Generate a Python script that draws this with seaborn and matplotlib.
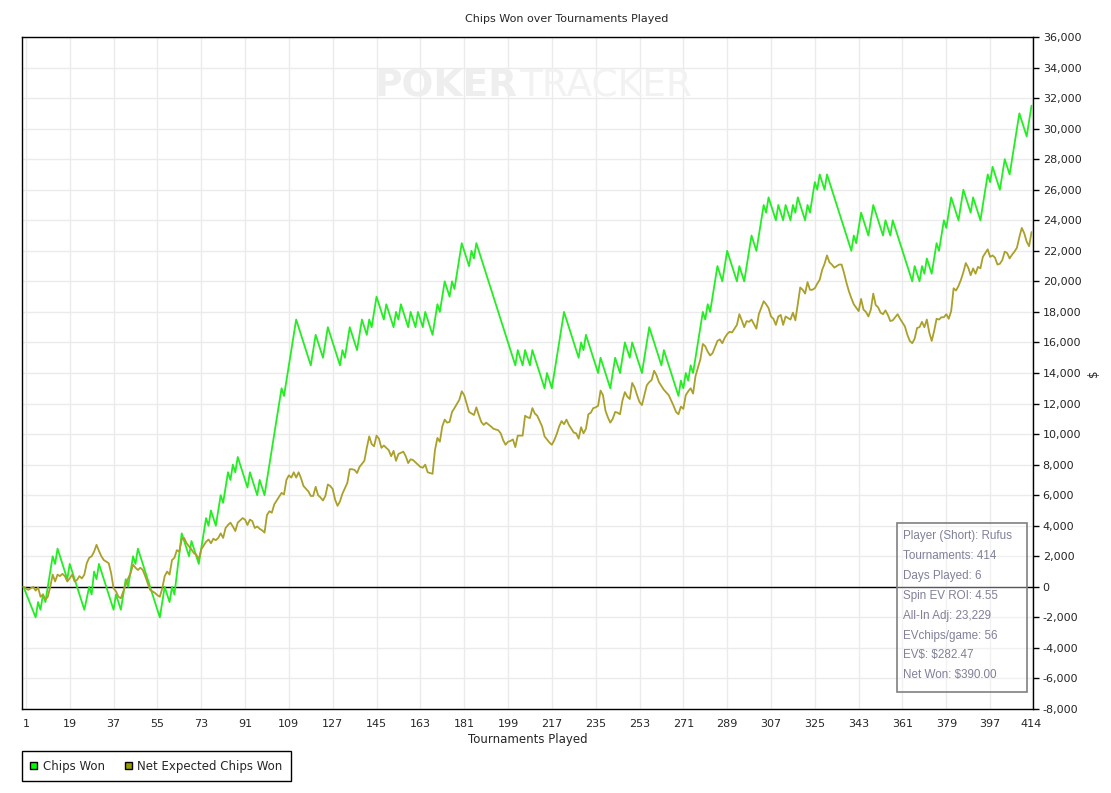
import matplotlib
matplotlib.use("Agg")
import matplotlib.pyplot as plt
from matplotlib.patches import Patch, Rectangle
from matplotlib.ticker import FuncFormatter
import seaborn as sns
import pandas as pd

# Chips Won: turning points of the win/loss path (tournament, chips)
chips_t = [
    0, 5, 6, 7, 8, 9, 12, 13, 14, 18,
    19, 25, 27, 28, 29, 30, 31, 37, 38, 40,
    42, 43, 45, 46, 47, 56, 58, 60, 61, 62,
    65, 68, 69, 72, 75, 76, 77, 79, 81, 82,
    84, 85, 86, 87, 88, 92, 93, 96, 97, 99,
    106, 107, 112, 118, 120, 123, 125, 130, 131, 132,
    134, 137, 139, 141, 142, 143, 145, 148, 149, 152,
    153, 154, 155, 158, 159, 161, 162, 164, 165, 168,
    170, 171, 173, 175, 176, 177, 180, 183, 184, 185,
    186, 202, 203, 205, 206, 208, 209, 214, 215, 217,
    222, 228, 229, 230, 231, 236, 237, 241, 243, 245,
    247, 249, 250, 254, 257, 262, 263, 269, 270, 271,
    272, 273, 274, 275, 279, 280, 281, 282, 285, 287,
    289, 293, 294, 296, 299, 301, 304, 305, 306, 309,
    310, 312, 313, 315, 316, 317, 318, 321, 322, 323,
    325, 326, 327, 329, 330, 340, 341, 342, 344, 347,
    349, 353, 354, 356, 357, 365, 366, 368, 369, 370,
    371, 373, 375, 376, 378, 379, 381, 384, 386, 389,
    390, 393, 396, 397, 398, 401, 403, 405, 409, 412,
    414,
]
chips_won = [
    0, -2000, -1000, -1500, -500, -1000, 2000, 1500, 2500, 500,
    1500, -1500, 0, -500, 1000, 500, 1500, -1500, -500, -1500,
    500, 0, 2000, 1500, 2500, -2000, 0, -1000, 0, -500,
    3500, 2000, 3000, 1500, 4500, 4000, 5000, 4000, 6000, 5500,
    7500, 7000, 8000, 7500, 8500, 6500, 7500, 6000, 7000, 6000,
    13000, 12500, 17500, 14500, 16500, 15000, 17000, 14500, 15500, 15000,
    17000, 15500, 17500, 16500, 17500, 17000, 19000, 17500, 18500, 17000,
    18000, 17500, 18500, 17000, 18000, 17000, 18000, 17000, 18000, 16500,
    18500, 18000, 20000, 19000, 20000, 19500, 22500, 21000, 22000, 21500,
    22500, 14500, 15500, 14500, 15500, 14500, 15500, 13000, 14000, 13000,
    18000, 15000, 16000, 15500, 16500, 14000, 15000, 13000, 15000, 14000,
    16000, 15000, 16000, 14000, 17000, 14500, 15500, 12500, 13500, 13000,
    14000, 13500, 14500, 14000, 18000, 17500, 18500, 18000, 21000, 20000,
    22000, 20000, 21000, 20000, 23000, 22000, 25000, 24500, 25500, 24000,
    25000, 24000, 25000, 24000, 25000, 24500, 25500, 24000, 25000, 24500,
    26500, 26000, 27000, 26000, 27000, 22000, 23000, 22500, 24500, 23000,
    25000, 23000, 24000, 23000, 24000, 20000, 21000, 20000, 21000, 20500,
    21500, 20500, 22500, 22000, 24000, 23500, 25500, 24000, 26000, 24500,
    25500, 24000, 27000, 26500, 27500, 26000, 28000, 27000, 31000, 29500,
    31500,
]

# Net Expected Chips Won (tournament, chips)
ev_t = [
    0, 2, 4, 5, 6, 7, 8, 9, 10, 11,
    12, 13, 14, 15, 16, 17, 18, 19, 20, 21,
    22, 23, 24, 25, 26, 27, 28, 29, 30, 31,
    32, 33, 34, 35, 36, 37, 38, 39, 40, 41,
    42, 43, 44, 45, 46, 47, 48, 49, 50, 51,
    52, 54, 55, 56, 57, 58, 59, 60, 61, 62,
    63, 64, 65, 66, 67, 68, 69, 70, 71, 72,
    73, 75, 76, 77, 78, 79, 80, 81, 82, 83,
    84, 85, 86, 87, 88, 89, 90, 91, 92, 93,
    94, 95, 96, 97, 98, 99, 100, 101, 102, 103,
    105, 106, 107, 108, 109, 110, 111, 112, 113, 114,
    115, 117, 118, 119, 120, 121, 122, 123, 124, 125,
    126, 127, 128, 129, 130, 131, 133, 134, 135, 136,
    137, 138, 140, 141, 142, 143, 144, 145, 146, 147,
    148, 149, 150, 151, 152, 153, 154, 156, 157, 158,
    159, 160, 161, 163, 164, 165, 166, 167, 168, 169,
    170, 171, 172, 173, 174, 175, 176, 177, 179, 180,
    181, 182, 183, 184, 185, 186, 187, 188, 189, 190,
    192, 193, 195, 196, 197, 198, 199, 200, 201, 202,
    203, 205, 206, 207, 208, 209, 210, 211, 213, 214,
    216, 217, 218, 219, 220, 221, 222, 223, 224, 225,
    226, 227, 228, 229, 230, 231, 232, 233, 234, 235,
    236, 237, 238, 239, 240, 241, 242, 243, 244, 245,
    246, 247, 248, 249, 250, 251, 252, 253, 254, 255,
    256, 257, 258, 259, 260, 261, 262, 263, 265, 266,
    267, 268, 269, 270, 271, 272, 273, 274, 275, 276,
    277, 278, 279, 280, 281, 282, 283, 284, 285, 286,
    287, 288, 289, 290, 291, 292, 293, 294, 295, 296,
    297, 298, 299, 300, 301, 302, 304, 305, 306, 307,
    308, 309, 310, 311, 312, 313, 314, 315, 316, 317,
    318, 319, 320, 321, 322, 323, 324, 325, 326, 327,
    328, 329, 330, 331, 332, 333, 335, 336, 337, 338,
    339, 340, 341, 343, 344, 345, 346, 347, 348, 349,
    350, 351, 352, 353, 354, 355, 356, 357, 359, 360,
    361, 362, 363, 364, 365, 366, 367, 368, 369, 370,
    371, 372, 373, 374, 375, 376, 377, 378, 379, 380,
    381, 382, 383, 384, 385, 386, 387, 388, 389, 390,
    391, 392, 393, 394, 396, 397, 398, 399, 400, 401,
    402, 403, 404, 405, 406, 407, 408, 409, 410, 411,
    412, 413, 414,
]
ev_won = [
    0, -200, 0, -250, -50, -650, -500, -850, -650, 0,
    800, 350, 800, 700, 850, 700, 350, 550, 800, 350,
    450, 700, 550, 800, 1550, 1900, 2000, 2300, 2750, 2350,
    2000, 1750, 1650, 1550, 900, -100, -300, -650, -750, -300,
    150, 550, 900, 1450, 1250, 1100, 1250, 1100, 700, 250,
    -200, -400, -550, -650, -100, 700, 1000, 800, 1750, 1900,
    2400, 2300, 3100, 3200, 2850, 2650, 2450, 2200, 2100, 1800,
    2450, 2950, 3100, 2850, 3150, 3050, 3200, 3500, 3200, 3850,
    4050, 4200, 3950, 3650, 4200, 4350, 4500, 4400, 4050, 4400,
    4300, 3850, 3950, 3800, 3700, 3550, 4700, 4950, 4850, 5400,
    5900, 6150, 6050, 7000, 7300, 7150, 7500, 7150, 7500, 7100,
    6600, 6250, 5950, 5950, 6550, 6000, 5850, 5650, 5950, 6700,
    6600, 6400, 5700, 5300, 5600, 6100, 6800, 7700, 7700, 7650,
    7450, 7850, 8250, 9100, 9850, 9350, 9200, 9900, 9700, 9100,
    9250, 9100, 8950, 8550, 8900, 8250, 8700, 8850, 8550, 8100,
    8350, 8300, 8150, 7850, 7800, 8000, 7500, 7450, 7400, 8950,
    9750, 9500, 10500, 10950, 10750, 10800, 11450, 11700, 12250, 12800,
    12550, 12000, 11450, 11350, 11250, 11750, 11250, 10800, 10600, 10750,
    10500, 10350, 10250, 10050, 9600, 9300, 9500, 9550, 9650, 9150,
    9900, 9900, 11200, 11100, 11050, 11700, 11350, 11200, 10500, 9850,
    9450, 9300, 9600, 10000, 10500, 10850, 10650, 10950, 10600, 10350,
    10100, 10050, 9700, 10450, 10050, 10350, 11300, 11400, 11700, 11750,
    11850, 12850, 12550, 11550, 11100, 10750, 11000, 11450, 11400, 11300,
    12200, 12750, 12450, 12300, 13350, 13050, 12550, 12100, 11900, 12550,
    13200, 13400, 13550, 14150, 13850, 13400, 13150, 12900, 12550, 12200,
    11850, 11450, 11300, 11800, 11650, 12550, 12800, 13000, 12650, 13800,
    14350, 14900, 15900, 15750, 15400, 15150, 15300, 15700, 16100, 16200,
    15950, 16300, 16550, 16700, 16650, 16900, 17150, 17850, 17450, 17000,
    17400, 17350, 17500, 17200, 16900, 17850, 18700, 18500, 18250, 17700,
    17550, 17150, 17700, 17800, 17150, 17700, 17600, 17500, 17950, 17450,
    18500, 19600, 19450, 19200, 19950, 19450, 19450, 19550, 19850, 20100,
    20750, 21150, 21700, 21250, 21100, 20900, 21100, 21100, 20550, 19900,
    19350, 18900, 18500, 18050, 18850, 18150, 18000, 17700, 18150, 19200,
    18450, 18300, 17950, 17850, 18100, 17800, 17400, 17450, 17850, 17550,
    17300, 17050, 16500, 16100, 15950, 16250, 16950, 17000, 17350, 17000,
    17500, 16650, 16100, 16750, 17550, 17500, 17650, 17650, 17850, 17550,
    18050, 19550, 19400, 19700, 20100, 20600, 21200, 20900, 20400, 20850,
    20500, 20950, 20850, 21600, 22100, 21600, 21700, 21550, 21100, 21150,
    21400, 21950, 21850, 21500, 21750, 21950, 22200, 22900, 23500, 23150,
    22600, 22300, 23229,
]

x_ticks = [1, 19, 37, 55, 73, 91, 109, 127, 145, 163, 181, 199, 217, 235,
           253, 271, 289, 307, 325, 343, 361, 379, 397, 414]
y_ticks = list(range(-8000, 36001, 2000))

series_names = ["Chips Won", "Net Expected Chips Won"]
stats_lines = ["Player (Short): Rufus", "Tournaments: 414", "Days Played: 6",
               "Spin EV ROI: 4.55", "All-In Adj: 23,229", "EVchips/game: 56",
               "EV\\$: \\$282.47", "Net Won: \\$390.00"]

GREEN = "#22ee22"
OLIVE = "#aaa02a"

sns.set_style("white")
plt.rcParams["font.family"] = ["DejaVu Sans"]

W, H = 1111, 793
fig = plt.figure(figsize=(W / 100, H / 100), dpi=100)
ax = fig.add_axes([22 / W, 84 / H, 1011 / W, 672 / H])

chips = pd.DataFrame({"t": chips_t, "chips": chips_won})
ev = pd.DataFrame({"t": ev_t, "chips": ev_won})
sns.lineplot(data=chips, x="t", y="chips", color=GREEN, lw=1.3, ax=ax,
             sort=False, estimator=None, zorder=3)
sns.lineplot(data=ev, x="t", y="chips", color=OLIVE, lw=1.3, ax=ax,
             sort=False, estimator=None, zorder=3)
ax.axhline(0, color="black", lw=1, zorder=2)

ax.set_xlim(-0.6, 414.6)
ax.set_ylim(-8000, 36000)
ax.set_xticks(x_ticks)
ax.set_yticks(y_ticks)
ax.yaxis.tick_right()
ax.yaxis.set_label_position("right")
ax.yaxis.set_major_formatter(FuncFormatter(lambda v, p: f"{int(v):,}"))
ax.tick_params(axis="both", labelsize=8, length=4, width=1, color="black",
               direction="out", pad=3)
ax.grid(True, color="#ebebeb", lw=1)
ax.set_axisbelow(True)
for side in ["left", "bottom", "right", "top"]:
    ax.spines[side].set_color("black")
    ax.spines[side].set_linewidth(1)

ax.set_xlabel("Tournaments Played", fontsize=8.5, labelpad=3)
ax.set_ylabel("$", fontsize=8.5, labelpad=4, rotation=90)

fig.text(567 / W, 1 - 19 / H, "Chips Won over Tournaments Played",
         fontsize=8, ha="center", va="center")

# watermark
ax.text(0.49, 0.927, "POKER", transform=ax.transAxes, ha="right", va="center",
        fontsize=27, fontweight="bold", color="#eeeeee", zorder=1)
ax.text(0.492, 0.927, "TRACKER", transform=ax.transAxes, ha="left", va="center",
        fontsize=27, color="#f2f2f2", zorder=1)

# stats box
box_x, box_y, box_w, box_h = 875 / 1011, 17 / 672, 130 / 1011, 169 / 672
ax.add_patch(Rectangle((box_x, box_y), box_w, box_h, transform=ax.transAxes,
                       facecolor="white", alpha=0.35, edgecolor="none", zorder=4))
ax.add_patch(Rectangle((box_x, box_y), box_w, box_h, transform=ax.transAxes,
                       facecolor="none", edgecolor="#808080", lw=1.2, zorder=5))
for i, line in enumerate(stats_lines):
    py = 536 + i * 19.9
    ax.text(881 / 1011, (709 - py) / 672, line, transform=ax.transAxes,
            fontsize=8.4, family="Liberation Sans", color="#80809a",
            ha="left", va="center", zorder=6)

handles = [Patch(facecolor="#00ff00", edgecolor="black"),
           Patch(facecolor="#999900", edgecolor="black")]
leg = fig.legend(handles, series_names, loc="lower left",
                 bbox_to_anchor=(22 / W, 12 / H), borderaxespad=0, ncol=2,
                 fontsize=8.5, frameon=True, fancybox=False, edgecolor="black",
                 framealpha=1, handlelength=0.6, handleheight=0.6,
                 handletextpad=0.45, columnspacing=1.7, borderpad=0.7)
leg.get_frame().set_linewidth(1)

fig.savefig("out.png", dpi=100)
